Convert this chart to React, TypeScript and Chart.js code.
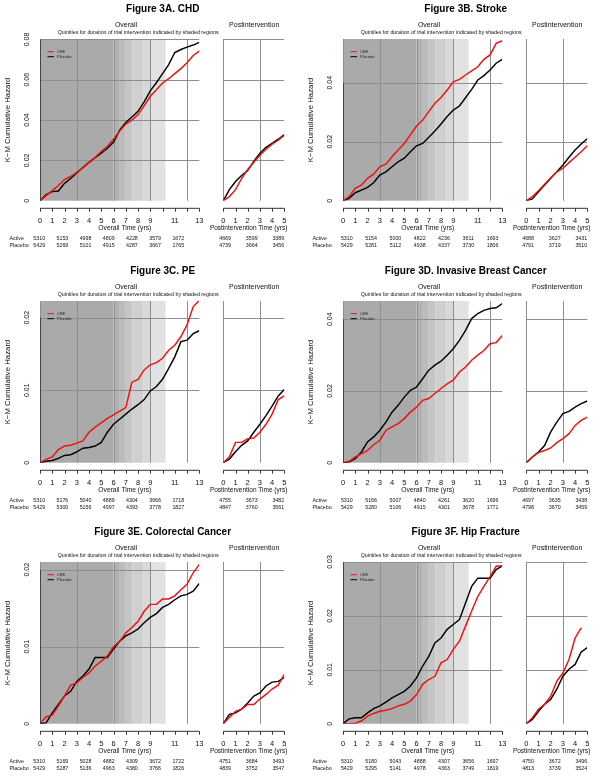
import React, { useEffect, useRef } from "react";
import { Chart, registerables } from "chart.js";
Chart.register(...registerables);

const FONT = '"Liberation Sans", Arial, Helvetica, sans-serif';

// ---- shared axes ----
const OVERALL_TIMES = [0, 0.5, 1, 1.5, 2, 2.5, 3, 3.5, 4, 4.5, 5, 5.5, 6, 6.5, 7, 7.5, 8, 8.5, 9, 9.5, 10, 10.5, 11, 11.5, 12, 12.5, 13];
const POST_TIMES = [0, 0.5, 1, 1.5, 2, 2.5, 3, 3.5, 4, 4.5, 5];
const OVERALL_TICKS = [0, 1, 2, 3, 4, 5, 6, 7, 8, 9, 10, 11, 12, 13];
const OVERALL_TICK_LABELS = ["0", "1", "2", "3", "4", "5", "6", "7", "8", "9", "", "11", "", "13"];
const POST_TICKS = [0, 1, 2, 3, 4, 5];
const POST_TICK_LABELS = ["0", "1", "2", "3", "4", "5"];
const OVERALL_GRID_X = [0, 3, 6, 9, 12];
const POST_GRID_X = [0, 3];
const SHADE_EDGES = [0, 6.0, 6.45, 7.0, 7.55, 8.45, 9.0, 10.25];
const SHADE_COLORS = ["#aaaaaa", "#b2b2b2", "#bbbbbb", "#c5c5c5", "#cfcfcf", "#d8d8d8", "#e2e2e2"];
const SERIES_NAMES = ["CEE", "Placebo"];
const RISK_ROWS = ["Active", "Placebo"];

// ---- Figure 3A. CHD ----
const A_CEE = [0, 0.0025, 0.005, 0.0075, 0.0105, 0.012, 0.014, 0.0163, 0.019, 0.0215, 0.0244, 0.027, 0.0305, 0.0345, 0.038, 0.04, 0.0427, 0.047, 0.0518, 0.055, 0.0584, 0.0605, 0.063, 0.0655, 0.0684, 0.072, 0.0742];
const A_PLACEBO = [0, 0.003, 0.0045, 0.0048, 0.0086, 0.011, 0.0138, 0.0165, 0.019, 0.0213, 0.0236, 0.026, 0.029, 0.035, 0.0388, 0.0415, 0.0443, 0.049, 0.0545, 0.0585, 0.063, 0.0675, 0.0735, 0.075, 0.0762, 0.0772, 0.0785];
const A_POST_CEE = [0, 0.002, 0.0055, 0.011, 0.0155, 0.019, 0.0225, 0.0255, 0.028, 0.03, 0.0325];
const A_POST_PLACEBO = [0, 0.0055, 0.0095, 0.0125, 0.015, 0.0195, 0.0235, 0.0265, 0.0285, 0.0305, 0.0328];
const A_RISK_ACTIVE = ["5310", "5153", "4998", "4809", "4228", "3579", "1672"];
const A_RISK_PLACEBO = ["5429", "5269", "5101", "4915", "4287", "3667", "1765"];
const A_POST_RISK_ACTIVE = ["4669", "3599", "3389"];
const A_POST_RISK_PLACEBO = ["4739", "3664", "3456"];
const A_Y_TICKS = [0, 0.02, 0.04, 0.06, 0.08];
const A_Y_LABELS = ["0", "0.02", "0.04", "0.06", "0.08"];

// ---- Figure 3B. Stroke ----
const B_CEE = [0, 0.0014, 0.0042, 0.0053, 0.0076, 0.009, 0.0115, 0.0124, 0.0149, 0.0172, 0.0194, 0.0223, 0.0253, 0.0273, 0.0302, 0.033, 0.035, 0.0375, 0.0403, 0.0411, 0.0426, 0.044, 0.0454, 0.0479, 0.0494, 0.0533, 0.0542];
const B_PLACEBO = [0, 0.0008, 0.0027, 0.0036, 0.0045, 0.0061, 0.0087, 0.0098, 0.0115, 0.0132, 0.0144, 0.0166, 0.0186, 0.0194, 0.0215, 0.0236, 0.026, 0.0285, 0.0307, 0.0321, 0.0349, 0.0377, 0.0409, 0.0424, 0.0443, 0.0466, 0.0479];
const B_POST_CEE = [0, 0.0014, 0.0034, 0.0056, 0.0078, 0.0098, 0.011, 0.0129, 0.0147, 0.0166, 0.0186];
const B_POST_PLACEBO = [0, 0.0006, 0.003, 0.0053, 0.0076, 0.0098, 0.0121, 0.0147, 0.0172, 0.0192, 0.021];
const B_RISK_ACTIVE = ["5310", "5154", "5000", "4822", "4236", "3611", "1693"];
const B_RISK_PLACEBO = ["5429", "5281", "5112", "4938", "4337", "3730", "1806"];
const B_POST_RISK_ACTIVE = ["4688", "3627", "3431"];
const B_POST_RISK_PLACEBO = ["4791", "3719", "3510"];
const B_Y_TICKS = [0, 0.02, 0.04];
const B_Y_LABELS = ["0", "0.02", "0.04"];

// ---- Figure 3C. PE ----
const C_CEE = [0, 0.00045, 0.0008, 0.0018, 0.0023, 0.0024, 0.0027, 0.003, 0.0042, 0.0049, 0.0055, 0.0061, 0.0066, 0.0071, 0.0076, 0.0111, 0.0115, 0.0128, 0.0135, 0.0138, 0.0144, 0.0155, 0.0162, 0.0174, 0.019, 0.0215, 0.0224];
const C_PLACEBO = [0, 0.0002, 0.0003, 0.0006, 0.001, 0.0011, 0.0015, 0.002, 0.0021, 0.0023, 0.0028, 0.0042, 0.0053, 0.006, 0.0067, 0.0074, 0.008, 0.0087, 0.0099, 0.0105, 0.0115, 0.013, 0.0146, 0.0167, 0.0169, 0.0178, 0.0182];
const C_POST_CEE = [0, 0.0008, 0.0028, 0.0028, 0.0033, 0.0034, 0.0042, 0.0053, 0.0067, 0.0087, 0.0092];
const C_POST_PLACEBO = [0, 0.0005, 0.0015, 0.0024, 0.003, 0.0042, 0.0053, 0.0065, 0.0078, 0.0092, 0.0101];
const C_RISK_ACTIVE = ["5310", "5176", "5040", "4889", "4304", "3666", "1718"];
const C_RISK_PLACEBO = ["5429", "5300", "5156", "4997", "4393", "3778", "1827"];
const C_POST_RISK_ACTIVE = ["4755", "3673", "3482"];
const C_POST_RISK_PLACEBO = ["4847", "3760", "3561"];
const C_Y_TICKS = [0, 0.01, 0.02];
const C_Y_LABELS = ["0", "0.01", "0.02"];

// ---- Figure 3D. Invasive Breast Cancer ----
const D_CEE = [0, 0.0004, 0.0016, 0.0025, 0.0034, 0.005, 0.0062, 0.009, 0.01, 0.0109, 0.0123, 0.0141, 0.0155, 0.0174, 0.0179, 0.0193, 0.0207, 0.022, 0.023, 0.0253, 0.0267, 0.0286, 0.03, 0.0313, 0.0332, 0.0335, 0.0355];
const D_PLACEBO = [0, 0.0002, 0.0011, 0.003, 0.0058, 0.0072, 0.009, 0.0113, 0.0141, 0.016, 0.0183, 0.0202, 0.0211, 0.0234, 0.0258, 0.0272, 0.0283, 0.03, 0.0318, 0.0341, 0.0369, 0.0402, 0.0416, 0.0425, 0.043, 0.0432, 0.0444];
const D_POST_CEE = [0, 0.0016, 0.0028, 0.0034, 0.0041, 0.0056, 0.0067, 0.0081, 0.0104, 0.0118, 0.0127];
const D_POST_PLACEBO = [0, 0.0016, 0.003, 0.0048, 0.0086, 0.0113, 0.0137, 0.0143, 0.0155, 0.0165, 0.0172];
const D_RISK_ACTIVE = ["5310", "5166", "5007", "4840", "4261", "3620", "1696"];
const D_RISK_PLACEBO = ["5429", "5280", "5106", "4915", "4301", "3678", "1771"];
const D_POST_RISK_ACTIVE = ["4697", "3635", "3438"];
const D_POST_RISK_PLACEBO = ["4798", "3670", "3459"];
const D_Y_TICKS = [0, 0.02, 0.04];
const D_Y_LABELS = ["0", "0.02", "0.04"];

// ---- Figure 3E. Colorectal Cancer ----
const E_CEE = [0, 0.0009, 0.0011, 0.0023, 0.0036, 0.005, 0.0053, 0.006, 0.0066, 0.0075, 0.0081, 0.0088, 0.01, 0.0107, 0.0118, 0.0125, 0.0133, 0.0146, 0.0155, 0.0155, 0.0162, 0.0162, 0.0166, 0.0174, 0.0181, 0.0196, 0.0207];
const E_PLACEBO = [0, 0.0001, 0.0014, 0.0025, 0.0036, 0.0042, 0.0055, 0.0062, 0.0071, 0.0086, 0.0086, 0.0086, 0.0097, 0.0107, 0.0114, 0.0118, 0.0123, 0.0131, 0.0138, 0.0143, 0.0151, 0.0155, 0.0161, 0.0166, 0.0168, 0.0172, 0.0182];
const E_POST_CEE = [0, 0.0008, 0.0016, 0.0019, 0.0025, 0.0025, 0.0032, 0.0038, 0.0045, 0.005, 0.0064];
const E_POST_PLACEBO = [0, 0.0012, 0.0014, 0.0019, 0.0027, 0.0036, 0.004, 0.0049, 0.0054, 0.0055, 0.006];
const E_RISK_ACTIVE = ["5310", "5169", "5028", "4882", "4309", "3672", "1722"];
const E_RISK_PLACEBO = ["5429", "5287", "5136", "4963", "4380", "3766", "1826"];
const E_POST_RISK_ACTIVE = ["4751", "3684", "3493"];
const E_POST_RISK_PLACEBO = ["4839", "3752", "3547"];
const E_Y_TICKS = [0, 0.01, 0.02];
const E_Y_LABELS = ["0", "0.01", "0.02"];

// ---- Figure 3F. Hip Fracture ----
const F_CEE = [0, 0, 0.0001, 0.0005, 0.0014, 0.0019, 0.0023, 0.0025, 0.0028, 0.0033, 0.0036, 0.0042, 0.0054, 0.0073, 0.0082, 0.0088, 0.0113, 0.0119, 0.0138, 0.0153, 0.0181, 0.0209, 0.0236, 0.0255, 0.0273, 0.0292, 0.0293];
const F_PLACEBO = [0, 0.0009, 0.0011, 0.0011, 0.002, 0.0028, 0.0033, 0.004, 0.0048, 0.0054, 0.006, 0.007, 0.0085, 0.0107, 0.0125, 0.015, 0.0159, 0.0175, 0.0184, 0.0193, 0.0224, 0.0255, 0.027, 0.027, 0.027, 0.0286, 0.0293];
const F_POST_CEE = [0, 0.0011, 0.0027, 0.0036, 0.0051, 0.0079, 0.0094, 0.0119, 0.0159, 0.0178];
const F_POST_PLACEBO = [0, 0.0008, 0.0023, 0.0036, 0.0045, 0.0064, 0.0088, 0.0101, 0.011, 0.0133, 0.0141];
const F_RISK_ACTIVE = ["5310", "5180", "5043", "4888", "4307", "3656", "1697"];
const F_RISK_PLACEBO = ["5429", "5295", "5141", "4978", "4363", "3749", "1819"];
const F_POST_RISK_ACTIVE = ["4750", "3672", "3496"];
const F_POST_RISK_PLACEBO = ["4813", "3739", "3524"];
const F_Y_TICKS = [0, 0.01, 0.02, 0.03];
const F_Y_LABELS = ["0", "0.01", "0.02", "0.03"];

const TITLES = [
  "Figure 3A. CHD",
  "Figure 3B. Stroke",
  "Figure 3C. PE",
  "Figure 3D. Invasive Breast Cancer",
  "Figure 3E. Colorectal Cancer",
  "Figure 3F. Hip Fracture",
];
const Y_MAX = [0.0802, 0.0548, 0.0223, 0.0451, 0.021, 0.03];

// ---- layout (pixels, relative to each panel) ----
const W = 300;
const H = 253;
const COL_X = [0, 303];
const ROW_Y = [0, 262, 523];
const PLOT = { left: 40, right: 199.3, top: 39, bottom: 200.7 };
const POST = { left: 223.3, right: 284.3 };
const AXIS_Y = 208.3;
const TICK_LEN = 3.4;
const TICK_LABEL_Y = 221;
const XTITLE_Y = 228.5;
const RISK_Y = [238.5, 245.5];
const RISK_START = [39.2, 43.8];
const RISK_STEP = [23.18, 24.3];

type PanelDef = {
  title: string;
  col: number;
  row: number;
  ymax: number;
  yTicks: number[];
  yLabels: string[];
  cee: number[];
  placebo: number[];
  postCee: number[];
  postPlacebo: number[];
  risk: string[][];
  postRisk: string[][];
};

const PANELS: PanelDef[] = [
  { title: TITLES[0], col: 0, row: 0, ymax: Y_MAX[0], yTicks: A_Y_TICKS, yLabels: A_Y_LABELS, cee: A_CEE, placebo: A_PLACEBO, postCee: A_POST_CEE, postPlacebo: A_POST_PLACEBO, risk: [A_RISK_ACTIVE, A_RISK_PLACEBO], postRisk: [A_POST_RISK_ACTIVE, A_POST_RISK_PLACEBO] },
  { title: TITLES[1], col: 1, row: 0, ymax: Y_MAX[1], yTicks: B_Y_TICKS, yLabels: B_Y_LABELS, cee: B_CEE, placebo: B_PLACEBO, postCee: B_POST_CEE, postPlacebo: B_POST_PLACEBO, risk: [B_RISK_ACTIVE, B_RISK_PLACEBO], postRisk: [B_POST_RISK_ACTIVE, B_POST_RISK_PLACEBO] },
  { title: TITLES[2], col: 0, row: 1, ymax: Y_MAX[2], yTicks: C_Y_TICKS, yLabels: C_Y_LABELS, cee: C_CEE, placebo: C_PLACEBO, postCee: C_POST_CEE, postPlacebo: C_POST_PLACEBO, risk: [C_RISK_ACTIVE, C_RISK_PLACEBO], postRisk: [C_POST_RISK_ACTIVE, C_POST_RISK_PLACEBO] },
  { title: TITLES[3], col: 1, row: 1, ymax: Y_MAX[3], yTicks: D_Y_TICKS, yLabels: D_Y_LABELS, cee: D_CEE, placebo: D_PLACEBO, postCee: D_POST_CEE, postPlacebo: D_POST_PLACEBO, risk: [D_RISK_ACTIVE, D_RISK_PLACEBO], postRisk: [D_POST_RISK_ACTIVE, D_POST_RISK_PLACEBO] },
  { title: TITLES[4], col: 0, row: 2, ymax: Y_MAX[4], yTicks: E_Y_TICKS, yLabels: E_Y_LABELS, cee: E_CEE, placebo: E_PLACEBO, postCee: E_POST_CEE, postPlacebo: E_POST_PLACEBO, risk: [E_RISK_ACTIVE, E_RISK_PLACEBO], postRisk: [E_POST_RISK_ACTIVE, E_POST_RISK_PLACEBO] },
  { title: TITLES[5], col: 1, row: 2, ymax: Y_MAX[5], yTicks: F_Y_TICKS, yLabels: F_Y_LABELS, cee: F_CEE, placebo: F_PLACEBO, postCee: F_POST_CEE, postPlacebo: F_POST_PLACEBO, risk: [F_RISK_ACTIVE, F_RISK_PLACEBO], postRisk: [F_POST_RISK_ACTIVE, F_POST_RISK_PLACEBO] },
];

const RED = "#f01010";
const BLACK = "#000000";
const GRID = "#8e8e8e";

function toPoints(times: number[], values: number[]) {
  return values.map((v, i) => ({ x: times[i], y: v }));
}

function text(ctx: CanvasRenderingContext2D, s: string, x: number, y: number, font: string, align: CanvasTextAlign = "center", rot = 0, color = "#111") {
  ctx.save();
  ctx.font = font;
  ctx.fillStyle = color;
  ctx.textAlign = align;
  ctx.textBaseline = "middle";
  ctx.translate(x, y);
  if (rot) ctx.rotate(rot);
  ctx.fillText(s, 0, 0);
  ctx.restore();
}

function drawXAxis(ctx: CanvasRenderingContext2D, xs: any, ticks: number[], labels: string[]) {
  ctx.save();
  ctx.strokeStyle = "#333";
  ctx.lineWidth = 1;
  ctx.beginPath();
  ctx.moveTo(xs.getPixelForValue(ticks[0]), AXIS_Y);
  ctx.lineTo(xs.getPixelForValue(ticks[ticks.length - 1]), AXIS_Y);
  ticks.forEach((t) => {
    const px = Math.round(xs.getPixelForValue(t)) + 0.5;
    ctx.moveTo(px, AXIS_Y);
    ctx.lineTo(px, AXIS_Y + TICK_LEN);
  });
  ctx.stroke();
  ctx.restore();
  ticks.forEach((t, i) => {
    if (labels[i]) text(ctx, labels[i], xs.getPixelForValue(t), TICK_LABEL_Y, `7.5px ${FONT}`);
  });
}

function drawGrid(chart: any, gridX: number[], yTicks: number[]) {
  const { ctx, chartArea: a, scales } = chart;
  ctx.save();
  ctx.strokeStyle = GRID;
  ctx.lineWidth = 1;
  ctx.beginPath();
  gridX.forEach((g) => {
    const px = Math.round(scales.x.getPixelForValue(g)) + 0.5;
    ctx.moveTo(px, a.top);
    ctx.lineTo(px, a.bottom);
  });
  yTicks.forEach((v) => {
    if (v === 0) return;
    const py = Math.round(scales.y.getPixelForValue(v)) + 0.5;
    ctx.moveTo(a.left, py);
    ctx.lineTo(a.right, py);
  });
  ctx.stroke();
  ctx.restore();
}

function makeDatasets(times: number[], cee: number[], placebo: number[]) {
  return [
    { label: SERIES_NAMES[0], data: toPoints(times, cee), borderColor: RED, borderWidth: 1.45, pointRadius: 0, tension: 0, fill: false, order: 0 },
    { label: SERIES_NAMES[1], data: toPoints(times, placebo), borderColor: BLACK, borderWidth: 1.45, pointRadius: 0, tension: 0, fill: false, order: 1 },
  ];
}

function Panel({ p }: { p: PanelDef }) {
  const overallRef = useRef<HTMLCanvasElement>(null);
  const postRef = useRef<HTMLCanvasElement>(null);

  useEffect(() => {
    const col = p.col;
    const overallPlugin = {
      id: "overallDecor",
      beforeDatasetsDraw(chart: any) {
        const { ctx, chartArea: a, scales } = chart;
        ctx.save();
        for (let i = 0; i < SHADE_COLORS.length; i++) {
          const x0 = scales.x.getPixelForValue(SHADE_EDGES[i]);
          const x1 = scales.x.getPixelForValue(SHADE_EDGES[i + 1]);
          ctx.fillStyle = SHADE_COLORS[i];
          ctx.fillRect(x0, a.top, x1 - x0, a.bottom - a.top);
        }
        ctx.restore();
        drawGrid(chart, OVERALL_GRID_X, p.yTicks);
      },
      afterDraw(chart: any) {
        const { ctx, chartArea: a, scales } = chart;
        ctx.save();
        ctx.strokeStyle = "#444";
        ctx.lineWidth = 1;
        ctx.beginPath();
        ctx.moveTo(Math.round(a.left) + 0.5, scales.y.getPixelForValue(0));
        ctx.lineTo(Math.round(a.left) + 0.5, scales.y.getPixelForValue(p.yTicks[p.yTicks.length - 1]));
        ctx.stroke();
        ctx.restore();
        p.yTicks.forEach((v, i) => text(ctx, p.yLabels[i], 27, scales.y.getPixelForValue(v), `7px ${FONT}`, "center", -Math.PI / 2));
        text(ctx, "K\u2212M Cumulative Hazard", 7.5, 120, `7.8px ${FONT}`, "center", -Math.PI / 2);
        text(ctx, p.title, 162.7, 9, `bold 10px ${FONT}`, "center", 0, "#000");
        text(ctx, "Overall", 126, 25, `7px ${FONT}`);
        text(ctx, "Quintiles for duration of trial intervention indicated by shaded regions", 138.2, 33, `5.3px ${FONT}`);
        drawXAxis(ctx, scales.x, OVERALL_TICKS, OVERALL_TICK_LABELS);
        text(ctx, "Overall Time (yrs)", 124.8, XTITLE_Y, `6.7px ${FONT}`);
        RISK_ROWS.forEach((r, ri) => {
          text(ctx, r, 9.5, RISK_Y[ri], `5.3px ${FONT}`, "left");
          p.risk[ri].forEach((n, ni) => text(ctx, n, RISK_START[col] + ni * RISK_STEP[col], RISK_Y[ri], `5.3px ${FONT}`));
        });
        const lx0 = a.left + 7.5, lx1 = a.left + 14, ltx = a.left + 17;
        [RED, BLACK].forEach((c, i) => {
          const ly = a.top + 12.7 + i * 5;
          ctx.save();
          ctx.strokeStyle = c;
          ctx.lineWidth = 1;
          ctx.beginPath();
          ctx.moveTo(lx0, ly);
          ctx.lineTo(lx1, ly);
          ctx.stroke();
          ctx.restore();
          text(ctx, SERIES_NAMES[i], ltx, ly, `4px ${FONT}`, "left", 0, "#222");
        });
      },
    };

    const postPlugin = {
      id: "postDecor",
      beforeDatasetsDraw(chart: any) {
        drawGrid(chart, POST_GRID_X, p.yTicks);
      },
      afterDraw(chart: any) {
        const { ctx, scales } = chart;
        text(ctx, "Postintervention", 254.2, 25, `7px ${FONT}`);
        drawXAxis(ctx, scales.x, POST_TICKS, POST_TICK_LABELS);
        text(ctx, "Postintervention Time (yrs)", 248.6, XTITLE_Y, `6.5px ${FONT}`);
        RISK_ROWS.forEach((_, ri) => {
          p.postRisk[ri].forEach((n, ni) => text(ctx, n, POST.left + 1.8 + ni * 26.6, RISK_Y[ri], `5.3px ${FONT}`));
        });
      },
    };

    const common = (xmax: number, left: number, right: number) => ({
      animation: false as const,
      responsive: false,
      events: [] as any[],
      layout: { padding: { left, right: W - right, top: PLOT.top, bottom: H - PLOT.bottom } },
      scales: {
        x: { type: "linear" as const, min: 0, max: xmax, display: false },
        y: { type: "linear" as const, min: 0, max: p.ymax, display: false },
      },
      plugins: { legend: { display: false }, tooltip: { enabled: false }, title: { display: false } },
    });

    const c1 = new Chart(overallRef.current!, {
      type: "line",
      data: { datasets: makeDatasets(OVERALL_TIMES, p.cee, p.placebo) as any },
      options: common(13, PLOT.left, PLOT.right) as any,
      plugins: [overallPlugin],
    });
    const c2 = new Chart(postRef.current!, {
      type: "line",
      data: { datasets: makeDatasets(POST_TIMES, p.postCee, p.postPlacebo) as any },
      options: common(5, POST.left, POST.right) as any,
      plugins: [postPlugin],
    });
    return () => {
      c1.destroy();
      c2.destroy();
    };
  }, [p]);

  const style: React.CSSProperties = { position: "absolute", left: 0, top: 0, width: W, height: H };
  return (
    <div style={{ position: "absolute", left: COL_X[p.col], top: ROW_Y[p.row], width: W, height: H }}>
      <canvas ref={overallRef} width={W} height={H} style={style} />
      <canvas ref={postRef} width={W} height={H} style={style} />
    </div>
  );
}

export default function App() {
  return (
    <div style={{ position: "absolute", left: 0, top: 0, width: 603, height: 776, overflow: "hidden", background: "#fff" }}>
      {PANELS.map((p, i) => (
        <Panel key={i} p={p} />
      ))}
    </div>
  );
}
